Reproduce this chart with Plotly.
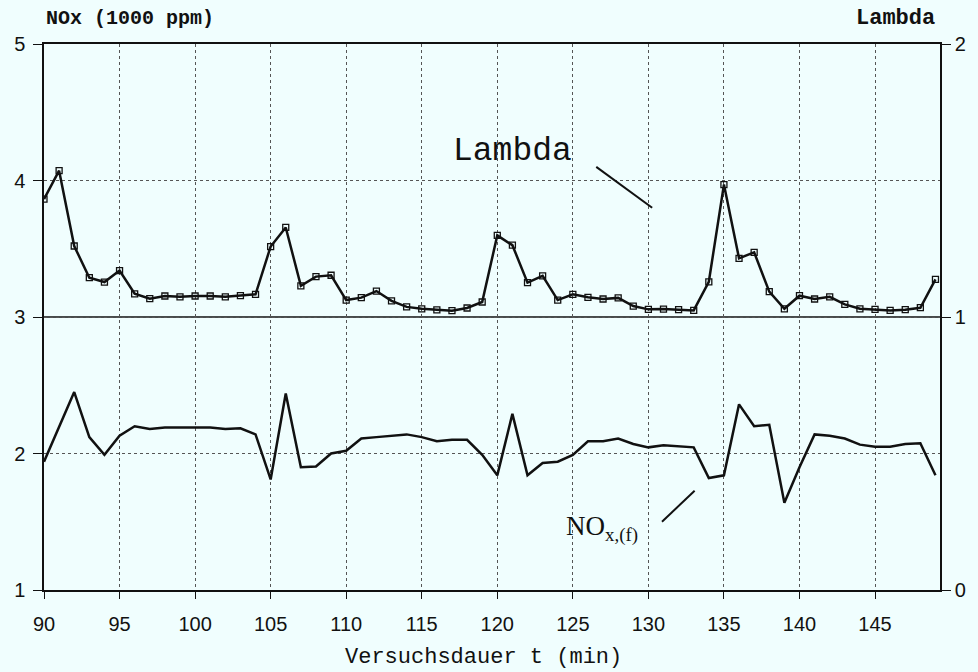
import plotly.graph_objects as go

minutes = list(range(90, 150))

lambda_vals = [
    1.432, 1.536, 1.260, 1.144, 1.128, 1.170, 1.085, 1.067, 1.077, 1.074,
    1.077, 1.077, 1.074, 1.078, 1.083, 1.258, 1.328, 1.114, 1.148, 1.153,
    1.062, 1.071, 1.095, 1.059, 1.037, 1.030, 1.026, 1.023, 1.033, 1.055,
    1.299, 1.263, 1.126, 1.151, 1.062, 1.083, 1.072, 1.066, 1.070, 1.040,
    1.028, 1.029, 1.027, 1.024, 1.129, 1.485, 1.215, 1.237, 1.093, 1.030,
    1.078, 1.066, 1.074, 1.046, 1.030, 1.028, 1.024, 1.027, 1.034, 1.138,
]

nox_vals = [
    1.94, 2.19, 2.45, 2.12, 1.99, 2.13, 2.20, 2.18, 2.19, 2.19,
    2.19, 2.19, 2.18, 2.185, 2.14, 1.81, 2.44, 1.90, 1.905, 2.00,
    2.02, 2.11, 2.12, 2.13, 2.14, 2.12, 2.09, 2.10, 2.10, 1.99,
    1.84, 2.29, 1.84, 1.93, 1.94, 1.99, 2.09, 2.09, 2.11, 2.07,
    2.045, 2.06, 2.05, 2.045, 1.82, 1.84, 2.36, 2.20, 2.21, 1.64,
    1.90, 2.14, 2.13, 2.11, 2.065, 2.05, 2.05, 2.07, 2.075, 1.84,
]

x_ticks = [90, 95, 100, 105, 110, 115, 120, 125, 130, 135, 140, 145]
left_ticks = [1, 2, 3, 4, 5]
right_ticks = [0, 1, 2]

BG = "#f0fefe"
INK = "#111111"
mono = "Liberation Mono, DejaVu Sans Mono, monospace"
tickfont = dict(family="Liberation Sans, Arial, sans-serif", size=20, color=INK)

fig = go.Figure()

fig.add_trace(go.Scatter(
    x=minutes, y=nox_vals, mode="lines",
    line=dict(color=INK, width=2.5), yaxis="y", showlegend=False,
))
fig.add_trace(go.Scatter(
    x=minutes, y=lambda_vals, mode="lines+markers",
    line=dict(color=INK, width=2.5),
    marker=dict(symbol="square-open", size=6, color=INK, line=dict(width=1.3)),
    yaxis="y2", showlegend=False,
))

fig.update_layout(
    width=978, height=672,
    margin=dict(l=44, r=35, t=44, b=82),
    paper_bgcolor=BG, plot_bgcolor=BG,
    xaxis=dict(
        range=[90, 149.3], tickvals=x_ticks, ticktext=[str(v) for v in x_ticks],
        showgrid=True, gridcolor="#555555", griddash="dot", gridwidth=1,
        showline=True, linecolor=INK, linewidth=1.5, mirror=True,
        ticks="outside", ticklen=7, tickcolor=INK, tickfont=tickfont,
        ticklabelstandoff=8, zeroline=False,
    ),
    yaxis=dict(
        range=[1, 5], tickvals=left_ticks,
        showgrid=True, gridcolor="#555555", griddash="dot", gridwidth=1,
        showline=True, linecolor=INK, linewidth=1.5,
        ticks="outside", ticklen=9, tickcolor=INK, tickfont=tickfont,
        ticklabelstandoff=4, zeroline=False,
    ),
    yaxis2=dict(
        range=[0, 2], tickvals=right_ticks, overlaying="y", side="right",
        showgrid=False, showline=True, linecolor=INK, linewidth=1.5,
        ticks="outside", ticklen=9, tickcolor=INK, tickfont=tickfont,
        zeroline=False,
    ),
    shapes=[
        dict(type="line", xref="paper", yref="y", x0=0, x1=1, y0=3, y1=3,
             line=dict(color=INK, width=1.5), layer="below"),
        dict(type="line", xref="x", yref="y", x0=126.55, y0=4.10, x1=130.25, y1=3.80,
             line=dict(color=INK, width=2)),
        dict(type="line", xref="x", yref="y", x0=130.9, y0=1.50, x1=133.06, y1=1.727,
             line=dict(color=INK, width=2)),
    ],
    annotations=[
        dict(text="<b>NOx (1000 ppm)</b>", xref="paper", yref="paper", x=0.0, y=1.046,
             xanchor="left", yanchor="middle", showarrow=False,
             font=dict(family=mono, size=20, color=INK)),
        dict(text="<b>Lambda</b>", xref="paper", yref="paper", x=0.95, y=1.046,
             xanchor="center", yanchor="middle", showarrow=False,
             font=dict(family=mono, size=22, color=INK)),
        dict(text="Versuchsdauer t (min)", xref="paper", yref="paper", x=0.49, y=-0.123,
             xanchor="center", yanchor="middle", showarrow=False,
             font=dict(family=mono, size=22, color=INK)),
        dict(text="Lambda", xref="x", yref="y", x=121.0, y=4.21,
             xanchor="center", yanchor="middle", showarrow=False,
             font=dict(family=mono, size=33, color=INK)),
        dict(text="NO<sub>x,(f)</sub>", xref="x", yref="y", x=126.9, y=1.45,
             xanchor="center", yanchor="middle", showarrow=False,
             font=dict(family="Liberation Serif, serif", size=27, color=INK)),
    ],
)

fig.write_html("out.html")
